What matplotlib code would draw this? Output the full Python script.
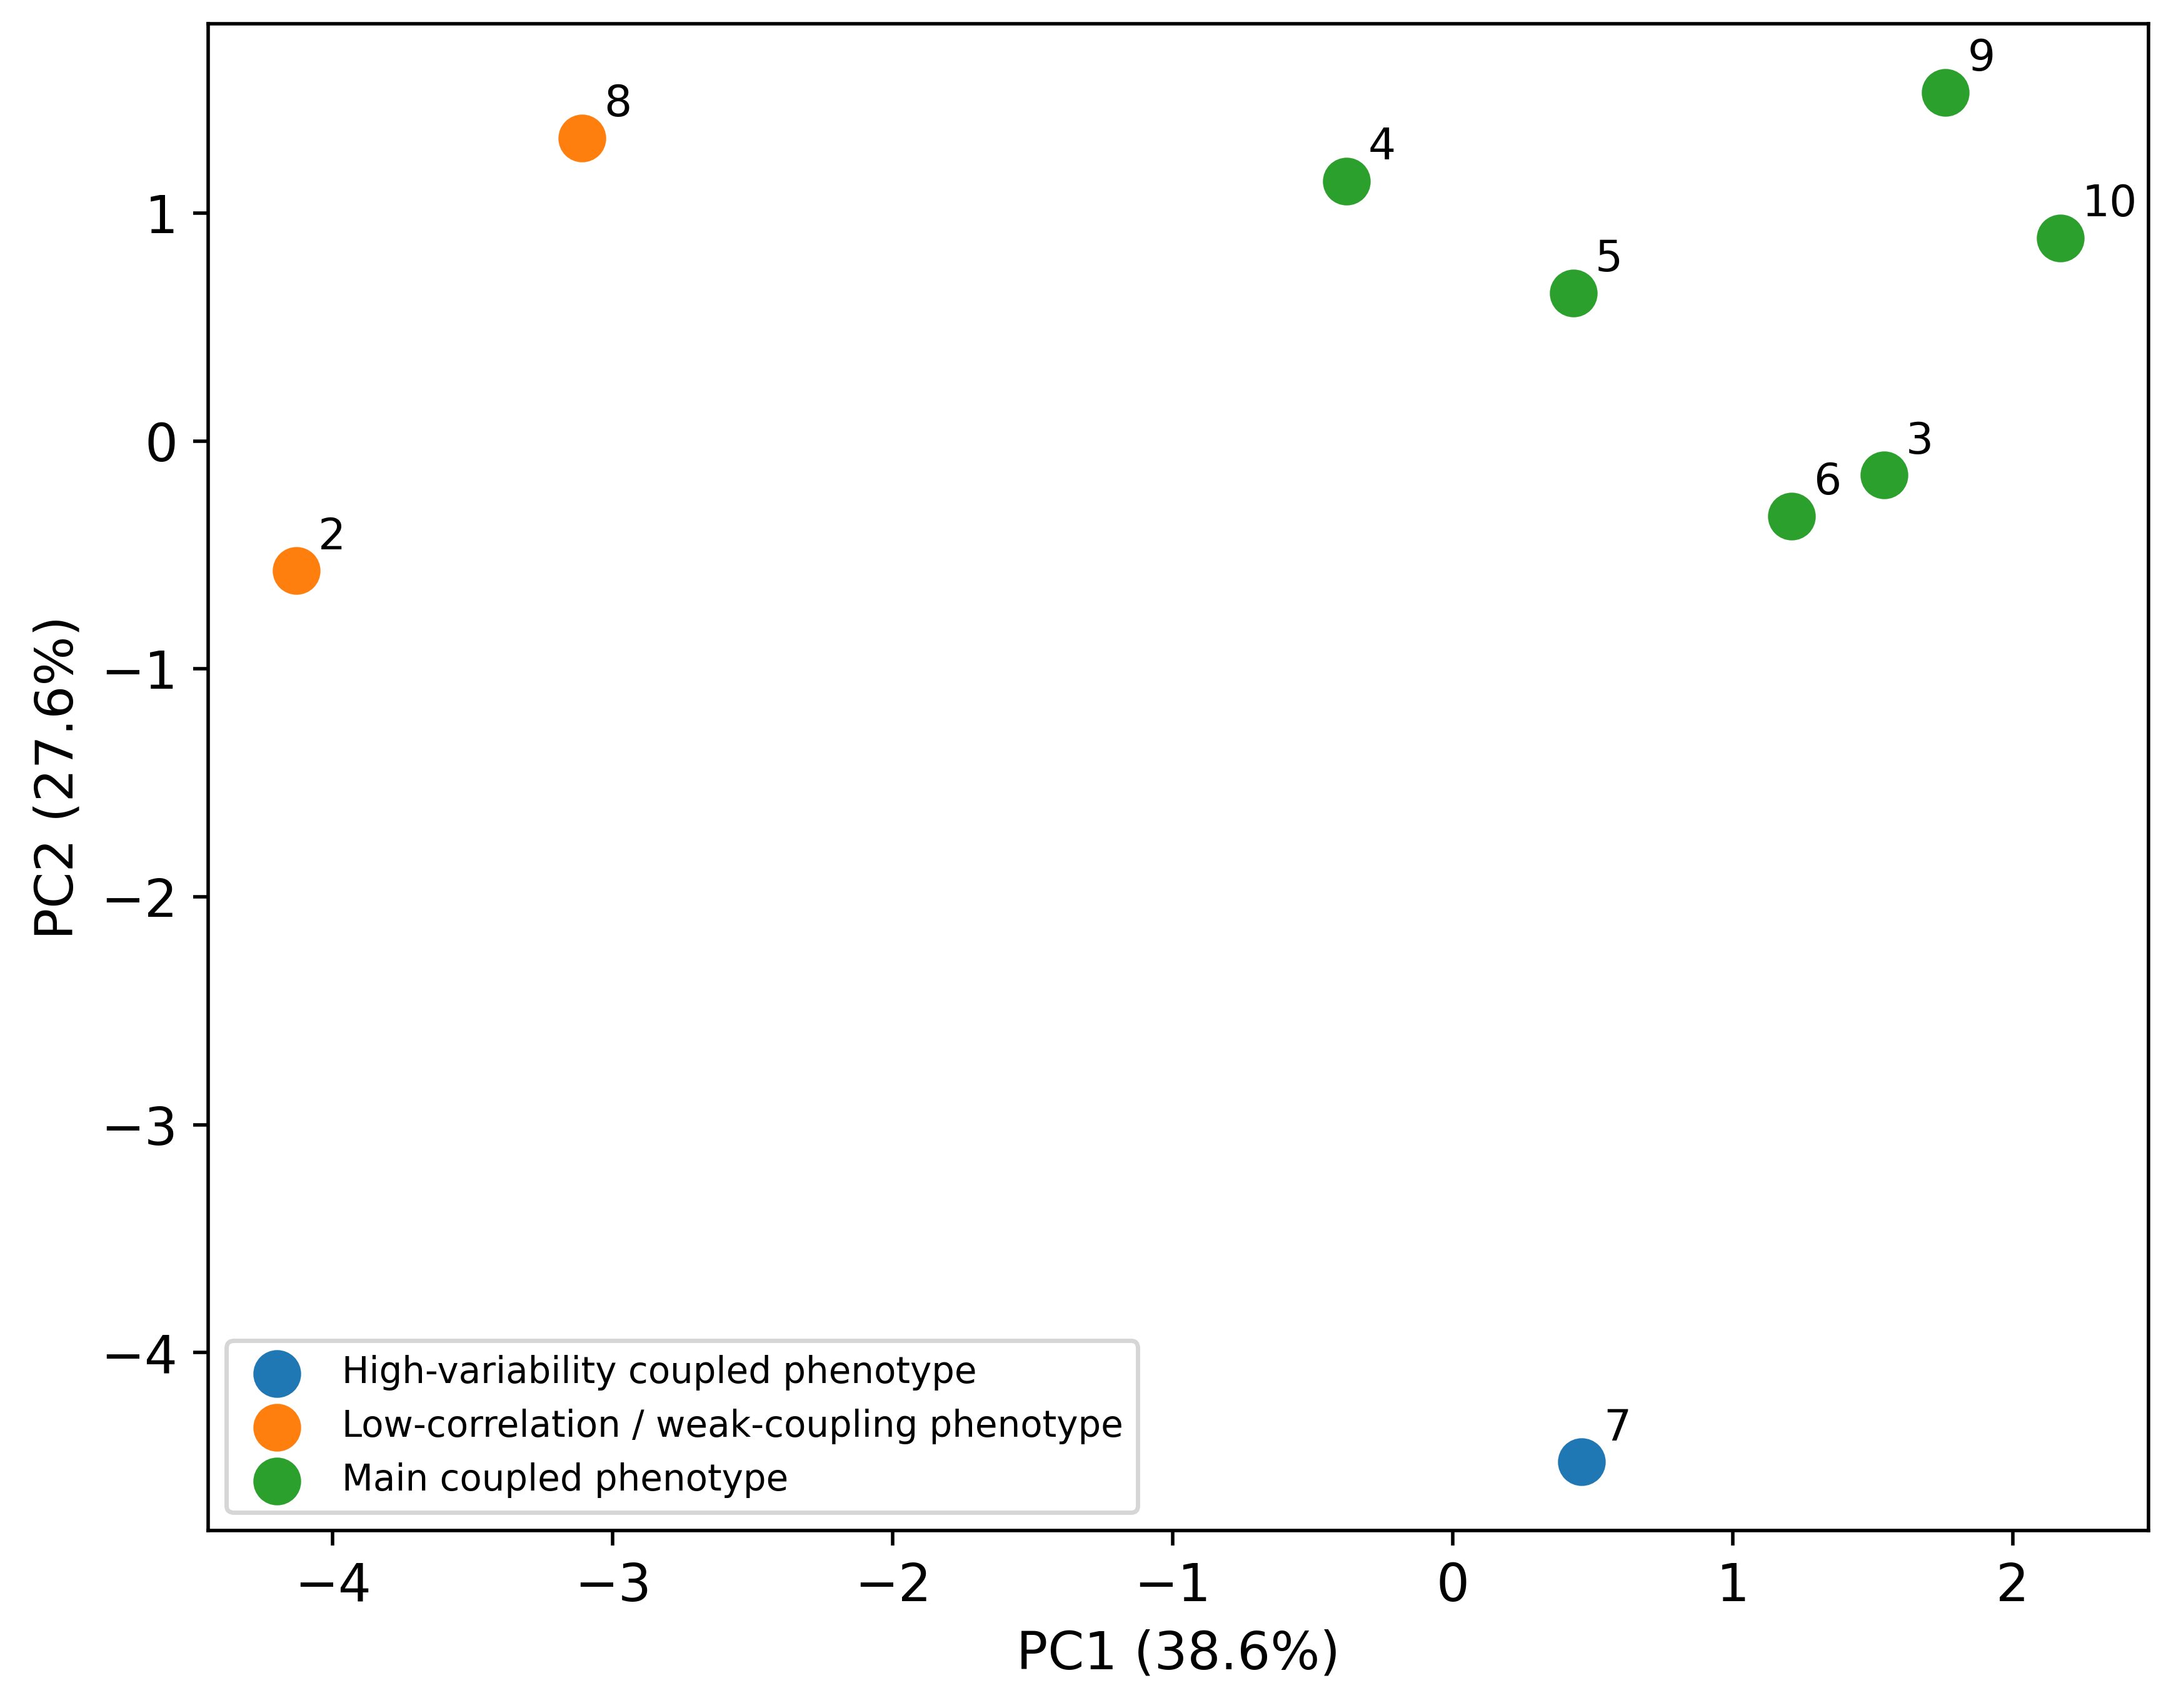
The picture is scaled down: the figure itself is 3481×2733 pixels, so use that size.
import matplotlib
matplotlib.use("Agg")
import matplotlib.pyplot as plt

# Data
sample_ids = ["2", "3", "4", "5", "6", "7", "8", "9", "10"]
pc1 = [-4.13, 1.54, -0.38, 0.43, 1.21, 0.46, -3.11, 1.76, 2.17]
pc2 = [-0.57, -0.15, 1.14, 0.65, -0.33, -4.48, 1.33, 1.53, 0.89]
groups = ["Low-correlation / weak-coupling phenotype",
          "Main coupled phenotype",
          "Main coupled phenotype",
          "Main coupled phenotype",
          "Main coupled phenotype",
          "High-variability coupled phenotype",
          "Low-correlation / weak-coupling phenotype",
          "Main coupled phenotype",
          "Main coupled phenotype"]
group_order = ["High-variability coupled phenotype",
               "Low-correlation / weak-coupling phenotype",
               "Main coupled phenotype"]
group_colors = ["#1f77b4", "#ff7f0e", "#2ca02c"]
xlabel = "PC1 (38.6%)"
ylabel = "PC2 (27.6%)"

DPI = 500
fig = plt.figure(figsize=(3481 / DPI, 2733 / DPI), dpi=DPI)
ax = fig.add_axes([0.0957, 0.1039, 0.8917, 0.8822])

for g, c in zip(group_order, group_colors):
    xs = [x for x, gg in zip(pc1, groups) if gg == g]
    ys = [y for y, gg in zip(pc2, groups) if gg == g]
    ax.scatter(xs, ys, s=100, color=c, label=g)

for sid, x, y in zip(sample_ids, pc1, pc2):
    ax.annotate(sid, (x, y), xytext=(5, 5), textcoords="offset points",
                fontsize=10)

ax.set_xlabel(xlabel, fontsize=12)
ax.set_ylabel(ylabel, fontsize=12)
ax.tick_params(labelsize=12)
ax.legend(loc="lower left", fontsize=8.33)

fig.savefig("out.png", dpi=DPI)
